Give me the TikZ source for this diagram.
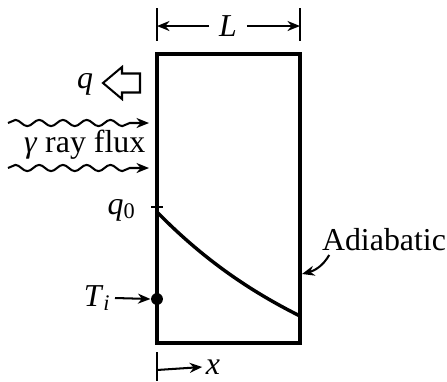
\documentclass[tikz,border=0pt]{standalone}
\usepackage{fontspec}
\setmainfont{Liberation Serif}
\usetikzlibrary{arrows.meta,positioning,decorations.pathmorphing}
\tikzset{
  lbl/.style={font=\fontsize{10.2}{12}\selectfont, inner sep=1pt},
  slabline/.style={line width=1.1pt},
  thinline/.style={line width=0.65pt},
  arr/.style={thinline, -{Stealth[length=4pt,width=3.2pt]}},
  raywave/.style={arr, decorate, decoration={snake, amplitude=1pt, segment length=7.6pt, post length=4pt}}
}

\begin{document}
\begin{tikzpicture}[x=0.32pt, y=-0.32pt]
  \useasboundingbox (0,0) rectangle (447,381);

  % Slab
  \coordinate (slabNW) at (157,54);
  \coordinate (slabSE) at (300,343);
  \draw[slabline] (slabNW) rectangle (slabSE);

  %--- Thickness L ---
  \draw[thinline] (157,8) -- (157,41);
  \draw[thinline] (300,8) -- (300,41);
  \coordinate (Lleft) at (157,26);
  \coordinate (Lright) at (300,26);
  \node[lbl, inner sep=3pt] (Llbl) at (228,26) {\textit{L}};
  \draw[arr] (Llbl.west) -- (Lleft);
  \draw[arr] (Llbl.east) -- (Lright);

  %--- Heat loss q ---
  \node[lbl] (qlbl) at (85,84) {\textit{q}};
  \draw[thinline] (103,83) -- (122,67) -- (122,73.5) -- (140,73.5) -- (140,92.5) -- (122,92.5) -- (122,99) -- cycle;

  %--- Gamma ray flux ---
  \node[lbl, anchor=east] (gamma) at (149,145) {\textit{γ} ray flux};
  \coordinate (ray1a) at (8,123);
  \coordinate (ray1b) at (149,123);
  \coordinate (ray2a) at (8,168);
  \coordinate (ray2b) at (149,168);
  \draw[raywave] (ray1a) -- (ray1b);
  \draw[raywave] (ray2a) -- (ray2b);

  %--- Source profile ---
  \node[lbl, anchor=east] (q0lbl) at (140,210) {\textit{q}\textsubscript{0}};
  \draw[thinline] (151,207) -- (163,207);
  \coordinate (qstart) at (157,212);
  \coordinate (qend) at (300,316);
  \draw[slabline] (qstart) .. controls (205,261) and (252,292) .. (qend);

  %--- Initial temperature ---
  \node[circle, fill, inner sep=0pt, minimum size=3.8pt] (Tidot) at (157,299) {};
  \node[lbl, anchor=east] (Tilbl) at (115,298) {\textit{T}\textsubscript{\textit{i}}};
  \draw[arr] (Tilbl.east) -- (Tidot.west);

  %--- Adiabatic wall ---
  \node[lbl] (adiab) at (384,240) {Adiabatic};
  \coordinate (wallR) at (302,274);
  \draw[arr] ([xshift=3.5pt]adiab.south west) to[out=240, in=15] (wallR);

  %--- Coordinate x ---
  \draw[thinline] (157,352) -- (157,381);
  \coordinate (xorig) at (157,370);
  \node[lbl] (xlbl) at (213,367) {\textit{x}};
  \draw[arr] (xorig) -- (xlbl.west);
\end{tikzpicture}
\end{document}
